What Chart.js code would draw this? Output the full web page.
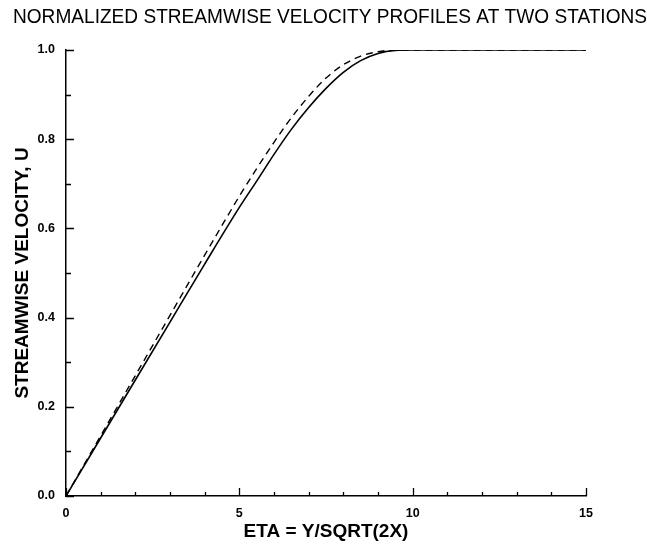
<!DOCTYPE html>
<html>
<head>
<meta charset="utf-8">
<script src="https://cdn.jsdelivr.net/npm/chart.js@4.4.1/dist/chart.umd.min.js"></script>
<style>
  html, body { margin: 0; padding: 0; background: #ffffff; }
  #c { display: block; }
</style>
</head>
<body>
<canvas id="c" width="647" height="545"></canvas>
<script>
// ---- data ----
const eta       = [0, 1, 2, 3, 4, 5, 5.5, 6, 6.5, 7, 7.5, 8, 8.5, 9, 9.5, 10, 11, 12, 13, 14, 15];
const uStation1 = [0, 0.130, 0.260, 0.390, 0.520, 0.647, 0.706, 0.766, 0.822, 0.871, 0.914, 0.950, 0.976, 0.992, 0.999, 1.0, 1.0, 1.0, 1.0, 1.0, 1.0];
const uStation2 = [0, 0.135, 0.270, 0.405, 0.540, 0.672, 0.734, 0.793, 0.848, 0.896, 0.937, 0.967, 0.986, 0.996, 1.0, 1.0, 1.0, 1.0, 1.0, 1.0, 1.0];
const xMajorTicks = [0, 5, 10, 15];
const xMinorTicks = [1, 2, 3, 4, 6, 7, 8, 9, 11, 12, 13, 14];
const yMajorTicks = [0, 0.2, 0.4, 0.6, 0.8, 1.0];
const yMinorTicks = [0.1, 0.3, 0.5, 0.7, 0.9];

const titleText = 'NORMALIZED STREAMWISE VELOCITY PROFILES AT TWO STATIONS';
const xTitle = 'ETA = Y/SQRT(2X)';
const yTitle = 'STREAMWISE VELOCITY, U';

const FONT = '"Liberation Sans", Arial, sans-serif';
const toPts = (xs, ys) => xs.map((x, i) => ({ x: x, y: ys[i] }));

// inward tick marks drawn through the chart's scales
const inwardTicks = {
  id: 'inwardTicks',
  afterDatasetsDraw(chart) {
    const { ctx, chartArea, scales } = chart;
    const xs = scales.x, ys = scales.y;
    ctx.save();
    ctx.strokeStyle = '#000';
    ctx.lineWidth = 1.3;
    ctx.beginPath();
    xMajorTicks.forEach(v => {
      const px = Math.round(xs.getPixelForValue(v)) + 0.5;
      ctx.moveTo(px, chartArea.bottom); ctx.lineTo(px, chartArea.bottom - 8);
    });
    xMinorTicks.forEach(v => {
      const px = Math.round(xs.getPixelForValue(v)) + 0.5;
      ctx.moveTo(px, chartArea.bottom); ctx.lineTo(px, chartArea.bottom - 4);
    });
    yMajorTicks.forEach(v => {
      const py = Math.round(ys.getPixelForValue(v)) + 0.5;
      ctx.moveTo(chartArea.left, py); ctx.lineTo(chartArea.left + 8, py);
    });
    yMinorTicks.forEach(v => {
      const py = Math.round(ys.getPixelForValue(v)) + 0.5;
      ctx.moveTo(chartArea.left, py); ctx.lineTo(chartArea.left + 5, py);
    });
    ctx.stroke();
    ctx.restore();
  }
};

new Chart(document.getElementById('c'), {
  type: 'line',
  data: {
    datasets: [
      {
        label: 'Station 1',
        data: toPts(eta, uStation1),
        borderColor: '#000',
        borderWidth: 1.6,
        pointRadius: 0,
        fill: false,
        yAxisID: 'y',
        cubicInterpolationMode: 'monotone'
      },
      {
        label: 'Station 2',
        data: toPts(eta, uStation2),
        borderColor: '#000',
        borderWidth: 1.4,
        borderDash: [7, 5],
        pointRadius: 0,
        fill: false,
        yAxisID: 'y',
        cubicInterpolationMode: 'monotone'
      }
    ]
  },
  options: {
    responsive: false,
    devicePixelRatio: 1,
    animation: false,
    layout: { padding: { left: 13, right: 0, top: 0, bottom: 0 } },
    plugins: {
      legend: { display: false },
      tooltip: { enabled: false },
      title: {
        display: true,
        text: titleText,
        color: '#000',
        font: { family: FONT, size: 19.3, weight: 'normal' },
        padding: { top: 6.4, bottom: 20.4 }
      }
    },
    scales: {
      x: {
        type: 'linear',
        min: 0,
        max: 15,
        afterFit: s => { s.height = 49; },
        ticks: {
          stepSize: 5,
          color: '#000',
          padding: 10,
          font: { family: FONT, size: 12.5, weight: 'bold' }
        },
        grid: { display: false, drawTicks: false },
        border: { display: true, color: '#000', width: 1.5 },
        title: {
          display: true,
          text: xTitle,
          color: '#000',
          font: { family: FONT, size: 19, weight: 'bold', lineHeight: 1.2 },
          padding: { top: 0, bottom: 2 }
        }
      },
      y: {
        type: 'linear',
        position: 'left',
        min: 0,
        max: 1,
        afterFit: s => { s.width = 53; },
        ticks: {
          stepSize: 0.2,
          color: '#000',
          padding: 11,
          callback: v => Number(v).toFixed(1),
          font: { family: FONT, size: 12.5, weight: 'bold' }
        },
        grid: { display: false, drawTicks: false },
        border: { display: true, color: '#000', width: 1.5 },
        title: {
          display: true,
          text: yTitle,
          color: '#000',
          font: { family: FONT, size: 19, weight: 'bold', lineHeight: 1.0 },
          padding: { top: 0, bottom: 0 }
        }
      },
      yr: {
        type: 'linear',
        position: 'right',
        display: true,
        min: 0,
        max: 1,
        afterFit: s => { s.width = 61; },
        ticks: { display: false },
        grid: { display: false, drawTicks: false },
        border: { display: false }
      }
    }
  },
  plugins: [inwardTicks]
});
</script>
</body>
</html>
